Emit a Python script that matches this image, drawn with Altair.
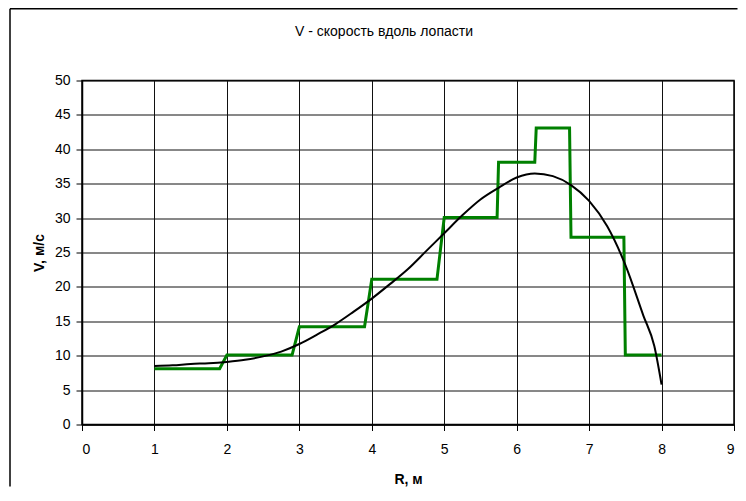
import altair as alt
import pandas as pd

# Green step line (stepped approximation)
green_r = [1.0, 1.9, 2.0, 2.9, 3.0, 3.9, 4.0, 4.9, 5.0, 5.73, 5.75, 6.25, 6.27, 6.73, 6.75, 7.48, 7.5, 8.0]
green_v = [8.1, 8.1, 10.1, 10.1, 14.2, 14.2, 21.1, 21.1, 30.1, 30.1, 38.1, 38.1, 43.1, 43.1, 27.2, 27.2, 10.1, 10.1]

# Black smooth curve
curve_r = [1.0, 1.25, 1.5, 1.75, 2.0, 2.25, 2.5, 2.75, 3.0, 3.25, 3.5, 3.75, 4.0, 4.25, 4.5, 4.75,
           5.0, 5.25, 5.5, 5.75, 6.0, 6.25, 6.5, 6.75, 7.0, 7.25, 7.5, 7.75, 7.9, 8.0]
curve_v = [8.5, 8.6, 8.8, 8.9, 9.1, 9.4, 9.9, 10.6, 11.7, 13.1, 14.6, 16.4, 18.3, 20.4, 22.6, 25.2,
           27.8, 30.4, 32.7, 34.4, 35.9, 36.5, 36.1, 34.8, 32.5, 28.8, 23.2, 15.8, 11.4, 5.8]

x_ticks = list(range(0, 10))
y_ticks = list(range(0, 55, 5))

title_text = "V - скорость вдоль лопасти"
x_title = "R, м"
y_title = "V, м/с"

FONT = "Liberation Sans"
PAD_L, PAD_T, PAD_R, PAD_B = 74, 72.5, 4, 62
W, H = 652, 344

green_df = pd.DataFrame({"r": green_r, "v": green_v, "i": range(len(green_r))})
curve_df = pd.DataFrame({"r": curve_r, "v": curve_v, "i": range(len(curve_r))})

x_scale = alt.Scale(domain=[0, 9], nice=False, zero=False)
y_scale = alt.Scale(domain=[0, 50], nice=False)

x_axis = alt.Axis(values=x_ticks, title=x_title, grid=True, format="d",
                  labelPadding=12, titlePadding=16, labelOverlap=False)
y_axis = alt.Axis(values=y_ticks, title=y_title, grid=True, format="d",
                  labelPadding=6, titlePadding=8, labelOverlap=False)

one = pd.DataFrame({"a": [0]})
frame_top = alt.Chart(one).mark_rule(color="black", strokeWidth=1.5, strokeCap="butt").encode(
    x=alt.value(10 - 8 - PAD_L), x2=alt.value(W + PAD_R - 0.5), y=alt.value(0.75 - PAD_T)
)
frame_left = alt.Chart(one).mark_rule(color="black", strokeWidth=1.5, strokeCap="butt").encode(
    x=alt.value(10 - 8 - PAD_L), y=alt.value(0.75 - PAD_T), y2=alt.value(H + PAD_B)
)

green = alt.Chart(green_df).mark_line(color="#008000", strokeWidth=3, strokeJoin="miter").encode(
    x=alt.X("r:Q", scale=x_scale, axis=x_axis),
    y=alt.Y("v:Q", scale=y_scale, axis=y_axis),
    order="i:Q",
)

curve = alt.Chart(curve_df).mark_line(color="black", strokeWidth=2, interpolate="monotone").encode(
    x=alt.X("r:Q", scale=x_scale, axis=x_axis),
    y=alt.Y("v:Q", scale=y_scale, axis=y_axis),
    order="i:Q",
)

title = alt.Chart(pd.DataFrame({"t": [title_text]})).mark_text(
    font=FONT, fontSize=14, color="black", align="center", baseline="middle"
).encode(
    text="t:N",
    x=alt.value(384 - 8 - PAD_L),
    y=alt.value(32 - 8 - PAD_T),
)

chart = alt.layer(green, curve, frame_top, frame_left, title).properties(
    width=W, height=H,
    autosize=alt.AutoSizeParams(type="none"),
    padding={"left": PAD_L, "top": PAD_T, "right": PAD_R, "bottom": PAD_B},
).configure_view(
    stroke="black", strokeWidth=1.5
).configure_axis(
    labelFont=FONT, labelFontSize=14, labelColor="black",
    titleFont=FONT, titleFontSize=14, titleFontWeight="bold", titleColor="black",
    domainColor="black", domainWidth=1.5,
    tickColor="black", tickSize=6, tickWidth=1,
    gridColor="#111111", gridWidth=1, gridOpacity=1,
)

chart.save("out.html", embed_options={"renderer": "svg", "actions": False})
